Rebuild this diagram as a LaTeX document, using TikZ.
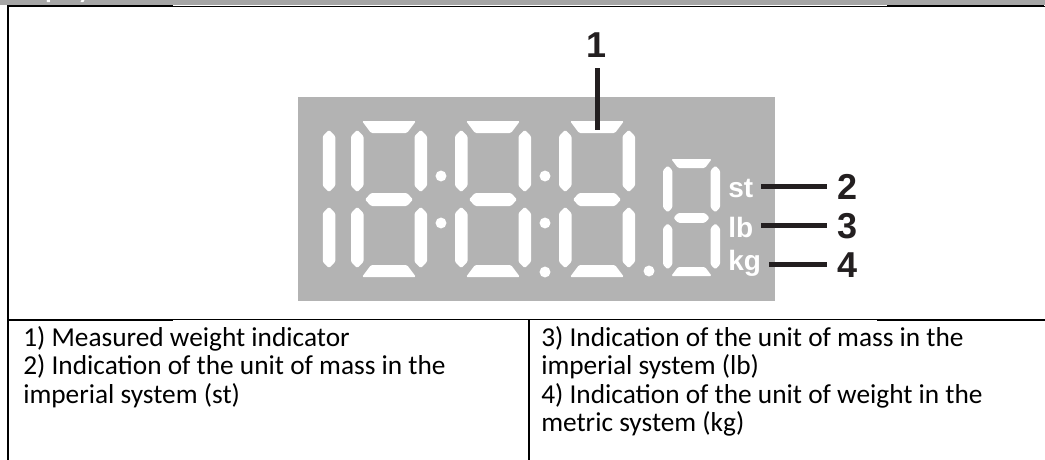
\documentclass[tikz,border=0pt]{standalone}
\usepackage{fontspec}
\setmainfont{Carlito}
\newfontfamily\arialfont{Liberation Sans}
\usetikzlibrary{positioning}
\definecolor{dispgray}{RGB}{179,179,179}
\definecolor{bargray}{RGB}{166,166,166}
\definecolor{ink}{RGB}{35,31,32}

\begin{document}
\begin{tikzpicture}
  [x=0.75pt,y=-0.75pt,
   seg/.style={fill=white,rounded corners=1pt},
   lead/.style={draw=ink,line width=3.75pt},
   num/.style={font=\arialfont\bfseries\fontsize{27}{27}\selectfont,text=ink,inner sep=7.5pt},
   unit/.style={font=\arialfont\bfseries\fontsize{21}{21}\selectfont,text=white,inner sep=6pt},
   cell/.style={font=\fontsize{20.5}{21.2}\selectfont,align=left,inner sep=0pt}]

  \useasboundingbox (0,0) rectangle (1045,460);
  \fill[bargray] (0,0) rectangle (1045,5);
  \begin{scope}
    \clip (0,0) rectangle (1045,5);
    \node[anchor=base west,inner sep=0pt,text=white,font=\bfseries\fontsize{19.5}{20}\selectfont] (title) at (12,-1) {Display};
  \end{scope}

  \draw[line width=0.75pt] (7,6.5) -- (1045,6.5);
  \draw[line width=1.5pt] (7,6.5) -- (173,6.5) (887,6.5) -- (1044,6.5);
  \draw[line width=0.75pt] (7,319.5) -- (1045,319.5);
  \draw[line width=1.5pt] (7,319.5) -- (173,319.5) (877,319.5) -- (1045,319.5);
  \draw[line width=1.5pt] (7.5,5.8) -- (7.5,460);
  \draw[line width=1pt] (529,319.5) -- (529,460);

  \fill[dispgray] (298,97) rectangle (775,301);

  \foreach \L/\T/\s in {351/121/1,455/121/1,559/121/1,663/159/0.75}{
    \begin{scope}[shift={(\L,\T)},scale=\s]
      \foreach \cx in {6.25,69.75}
        \foreach \ya/\yb in {9/71,86/147}
          \fill[seg] (\cx-6.25,\ya+6) -- (\cx,\ya) -- (\cx+6.25,\ya+6) -- (\cx+6.25,\yb-6) -- (\cx,\yb) -- (\cx-6.25,\yb-6) -- cycle;
      \fill[seg] (11,0) -- (65,0) -- (56,12) -- (20,12) -- cycle;
      \fill[seg] (14,78.5) -- (20,72) -- (56,72) -- (62,78.5) -- (56,85) -- (20,85) -- cycle;
      \fill[seg] (20,144) -- (56,144) -- (65,156) -- (11,156) -- cycle;
    \end{scope}
  }
  \begin{scope}[shift={(259.25,121)}]
    \foreach \ya/\yb in {9/71,86/147}
      \fill[seg] (63.5,\ya+6) -- (69.75,\ya) -- (76,\ya+6) -- (76,\yb-6) -- (69.75,\yb) -- (63.5,\yb-6) -- cycle;
  \end{scope}
  \foreach \x/\y in {441/176,441/223,545/176,545/223,545/272,649/271}
    \fill[white] (\x,\y) circle (4.1pt);

  \node[unit,anchor=base west] (st) at (720,197) {st};
  \node[unit,anchor=base west] (lb) at (720,237) {lb};
  \node[unit,anchor=base west] (kg) at (720,270) {kg};

  \node[num,anchor=base] (n1) at (597,58) {1};
  \node[num,anchor=base] (n2) at (847,199) {2};
  \node[num,anchor=base] (n3) at (847,238) {3};
  \node[num,anchor=base] (n4) at (847,277) {4};

  \coordinate (p1) at (597,130);
  \draw[lead] (n1.south) -- (p1);
  \foreach \from/\to in {st/n2,lb/n3,kg/n4}
    \draw[lead] (\to.west -| \from.east) -- (\to.west);

  \node[cell,anchor=base west] (c1) at (23,403)
    {1) Measured weight indicator\\2) Indication of the unit of mass in the\\imperial system (st)};
  \node[cell,anchor=base west] (c2) at (541,431.3)
    {3) Indication of the unit of mass in the\\imperial system (lb)\\4) Indication of the unit of weight in the\\metric system (kg)};
\end{tikzpicture}
\end{document}
